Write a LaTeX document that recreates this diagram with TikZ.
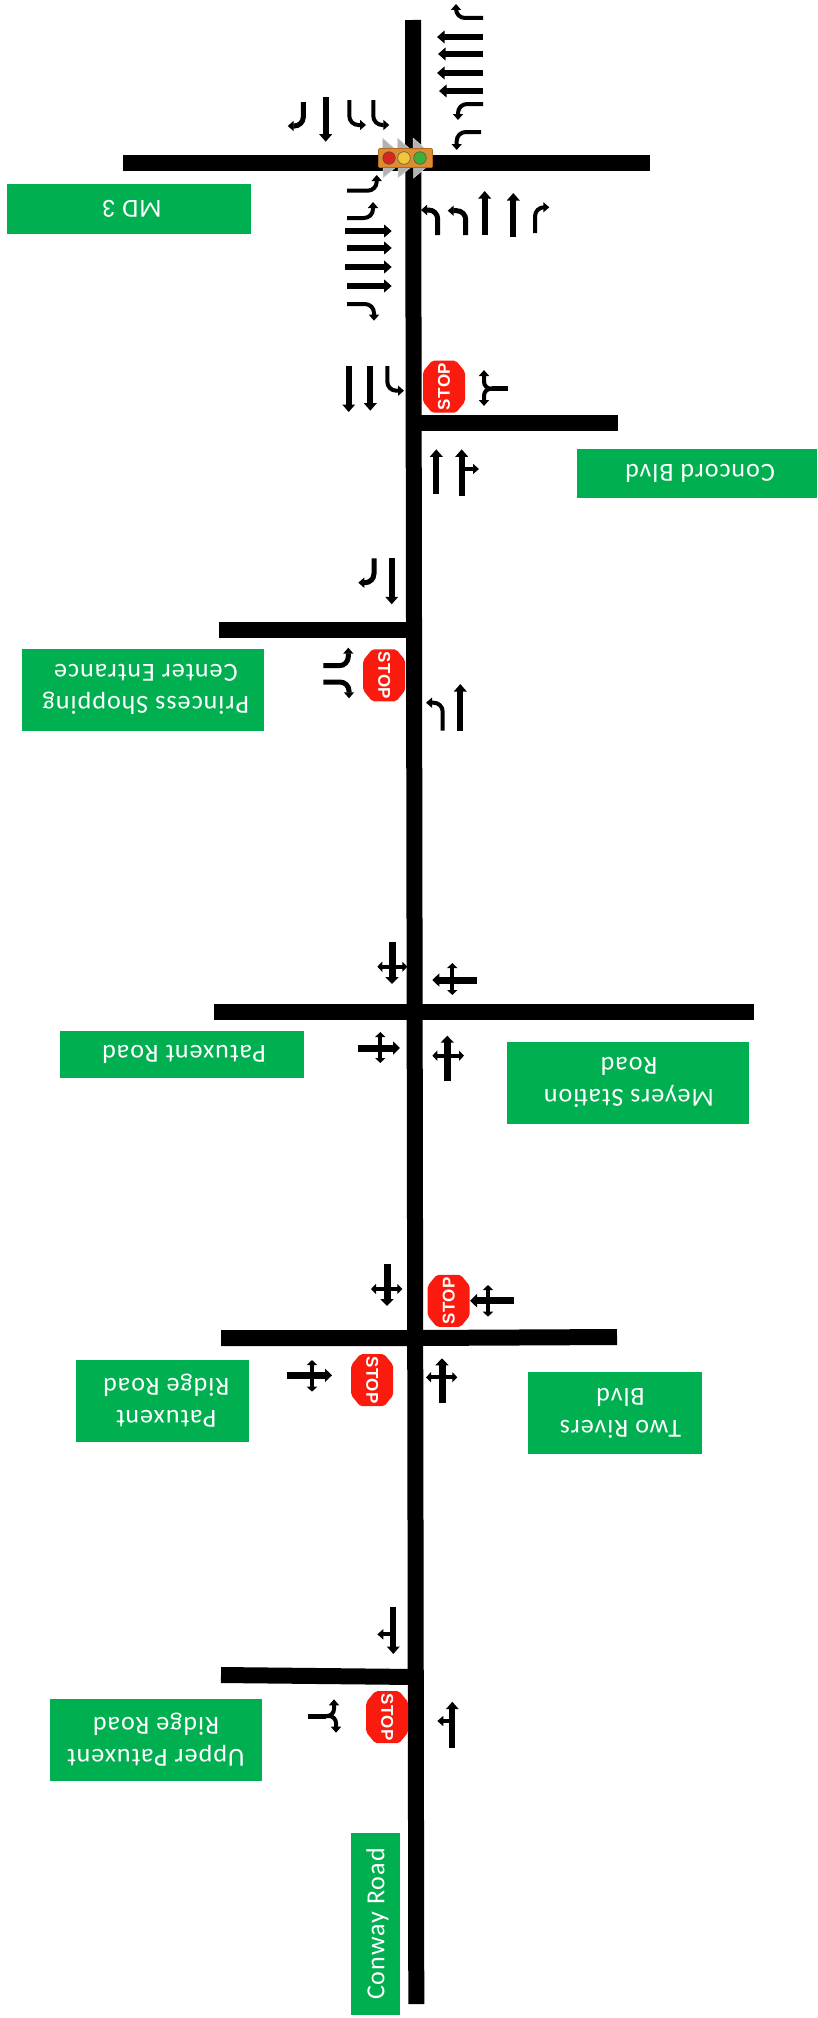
\documentclass[tikz,border=0pt]{standalone}
\usepackage{fontspec}
\setmainfont{Carlito}[LetterSpace=4]
\newfontfamily\stopfont{Liberation Sans}[LetterSpace=4]
\usetikzlibrary{arrows.meta}
\definecolor{signgreen}{HTML}{00B050}
\definecolor{stopred}{HTML}{FA1A0E}
\definecolor{lamphouse}{HTML}{DE8C30}
\definecolor{lamprim}{HTML}{B06A20}
\definecolor{lampred}{HTML}{D9261C}
\definecolor{lampyellow}{HTML}{F0C63C}
\definecolor{lampgreen}{HTML}{3FAE3A}
\tikzset{
  road/.style={line width=16pt,black,line cap=butt},
  signbox/.style={fill=signgreen,draw=none},
  signtext/.style={text=white,font=\fontsize{26}{32}\selectfont,align=center,rotate=180,inner sep=0pt},
  big/.style={line width=5.8pt,-{Triangle[length=7.5pt,width=12.5pt]}},
  thick cross/.style={line width=7pt,-{Triangle[length=7pt,width=13pt]}},
  thin/.style={line width=4pt,-{Triangle[length=6pt,width=10pt]}},
  curved/.style={line width=4pt,rounded corners=9pt,-{Triangle[length=6pt,width=10pt]}},
  dbl/.style={line width=4pt,{Triangle[length=5pt,width=10pt]}-{Triangle[length=5pt,width=10pt]}},
  visor/.style={fill=black!30,draw=black!15,line width=.5pt}
}
\newcommand{\stopsign}[3]{% x,y,rotation
  \begin{scope}[shift={(#1,#2)}]
    \fill[stopred,rounded corners=2pt] (-12,-26) -- (12,-26) -- (21,-15) -- (21,15) -- (12,26) -- (-12,26) -- (-21,15) -- (-21,-15) -- cycle;
    \node[rotate=#3,text=white,inner sep=0pt,font=\stopfont\bfseries\fontsize{17}{17}\selectfont] at (0,0) {STOP};
  \end{scope}}
\newcommand{\signbox}[6]{% x1,y1,x2,y2,x-offset,text
  \fill[signbox] (#1,#2) rectangle (#3,#4);
  \node[signtext] at ({(#1+#3)/2+#5},{(#2+#4)/2}) {#6};}
\begin{document}
\begin{tikzpicture}[x=1pt,y=-1pt]
\useasboundingbox (0,0) rectangle (817,2018);
% roads
\draw[road] (413,20) -- (416.3,2004);
\draw[road] (123,163) -- (650,163);
\draw[road] (413,423) -- (618,423);
\draw[road] (219,630) -- (414,630);
\draw[road] (214,1012) -- (754,1012);
\draw[road] (221,1338) -- (415,1338) -- (617,1337);
\draw[road] (221,1675) -- (416,1677);
% signal
\foreach \x in {0,15,30.5}{
  \fill[visor] ({382.5+\x},138) -- ({382.5+\x},149) -- ({395+\x},149) -- cycle;
  \fill[visor] ({383+\x},178) -- ({383+\x},167) -- ({396+\x},167) -- cycle;
}
\fill[lamphouse,draw=lamprim,line width=.6pt,rounded corners=1pt] (378.5,148.5) rectangle (432.5,167.5);
\fill[lampred,draw=black!70,line width=.5pt] (389,158) circle (6.3);
\fill[lampyellow,draw=black!70,line width=.5pt] (404,158) circle (6.3);
\fill[lampgreen,draw=black!70,line width=.5pt] (420,158) circle (6.3);
% MD3 north leg
\draw[curved] (483,18) -| (456,4);
\draw[big] (483,37) -- (437,37);
\draw[big] (483,54) -- (438,54);
\draw[big] (483,73) -- (437,73);
\draw[big] (483,91) -- (439,91);
\draw[curved] (483,104) -| (458,120);
\draw[curved] (481,132) -| (456.7,150);
\draw[curved,line width=5pt] (303.3,102) |- (287.7,126);
\draw[big] (325.7,97) -- (325.7,141.7);
\draw[curved] (349.3,100) |- (366,125);
\draw[curved] (373.3,100) |- (389.3,125);
\draw[curved] (347,190.7) -| (376.7,175);
\draw[curved] (347,218) -| (373,202);
\draw[big] (345,231) -- (391.7,231);
\draw[big] (347,248) -- (391.7,248);
\draw[big] (345,267) -- (391.7,267);
\draw[big] (347,286) -- (391.7,286);
\draw[curved] (347,304) -| (374,320.7);
\draw[curved,line width=5pt] (437.7,235) |- (421,210);
\draw[curved,line width=5pt] (465.7,235) |- (447.7,210.7);
\draw[big] (484.7,235) -- (484.7,191);
\draw[big] (513.3,237) -- (513.3,193);
\draw[curved] (535,233) |- (549.3,207.3);
% Concord
\draw[big] (348.7,366) -- (348.7,412);
\draw[big] (370.3,366) -- (370.3,410.7);
\draw[curved] (387.3,366) |- (404,390.7);
\stopsign{444}{386.7}{90}
\draw[line width=5pt] (508.3,388.7) -- (492,388.7);
\draw[curved,rounded corners=7pt] (494,388.7) -| (484,370);
\draw[curved,rounded corners=7pt] (494,388.7) -| (484,406);
\draw[big] (436.3,494) -- (436.3,449.3);
\draw[big] (461.7,495.7) -- (461.7,449.3);
\draw[thin] (461.7,469) -- (479,469);
% Princess
\draw[curved,line width=5pt] (374,558.3) |- (358.3,582.7);
\draw[big] (391.7,558) -- (391.7,604.3);
\draw[curved,line width=5pt] (323.3,665.7) -| (348.3,647.7);
\draw[curved,line width=5pt] (323.3,682) -| (349,698.3);
\stopsign{384.2}{675.3}{-90}
\draw[curved] (442.7,730.7) |- (426,702.7);
\draw[big] (460.3,730.7) -- (460.3,684);
% Patuxent / Meyers
\draw[thick cross] (392,942) -- (392,984);
\draw[dbl] (377.3,966.7) -- (407.3,966.7);
\draw[thick cross] (477,980) -- (432.3,980);
\draw[dbl] (452.3,963) -- (452.3,995);
\draw[thick cross] (357.7,1048) -- (400,1048);
\draw[dbl] (380.3,1032) -- (380.3,1063);
\draw[thick cross] (447.3,1080.7) -- (447.3,1035.7);
\draw[dbl] (432.3,1055.7) -- (464,1055.7);
% Two Rivers / Patuxent Ridge
\draw[thick cross] (387,1264) -- (387,1306);
\draw[dbl] (371,1289) -- (402.3,1289);
\stopsign{448.7}{1300.8}{90}
\draw[thick cross] (513.7,1300.7) -- (470,1300.7);
\draw[dbl] (488,1285) -- (488,1316.7);
\draw[thick cross] (287.3,1375.3) -- (332,1375.3);
\draw[dbl] (312,1360) -- (312,1391.7);
\stopsign{372.2}{1380.2}{-90}
\draw[thick cross] (442,1402.7) -- (442,1358.3);
\draw[dbl] (426,1377.3) -- (457.3,1377.3);
% Upper Patuxent
\draw[big] (393.3,1607.3) -- (393.3,1654);
\draw[thin] (393.3,1634.3) -- (377.3,1634.3);
\stopsign{387.2}{1717.2}{-90}
\draw[line width=5pt] (308.3,1716) -- (326,1716);
\draw[curved,rounded corners=7pt] (324,1716) -| (334,1699.3);
\draw[curved,rounded corners=7pt] (324,1716) -| (336,1732.7);
\draw[big] (452.3,1748.3) -- (452.3,1701.7);
\draw[thin] (452.3,1721) -- (437.3,1721);
% labels
\signbox{7}{184}{251}{233.7}{3}{MD 3}
\signbox{577}{449}{817}{497.7}{3}{Concord Blvd}
\signbox{22}{649}{263.7}{730.7}{3}{Princess Shopping\\Center Entrance}
\signbox{60}{1031}{304}{1077.7}{2}{Patuxent Road}
\signbox{507}{1042}{749}{1123.7}{1}{Meyers Station\\Road}
\signbox{76}{1360}{248.5}{1441.7}{4}{Patuxent\\Ridge Road}
\signbox{527.5}{1372}{701.5}{1453.7}{6}{Two Rivers\\Blvd}
\signbox{50}{1699}{262}{1780.7}{0}{Upper Patuxent\\Ridge Road}
\fill[signbox] (351,1833) rectangle (400,2014.7);
\node[signtext,rotate=-90] at (377.5,1924) {Conway Road};
\end{tikzpicture}
\end{document}
